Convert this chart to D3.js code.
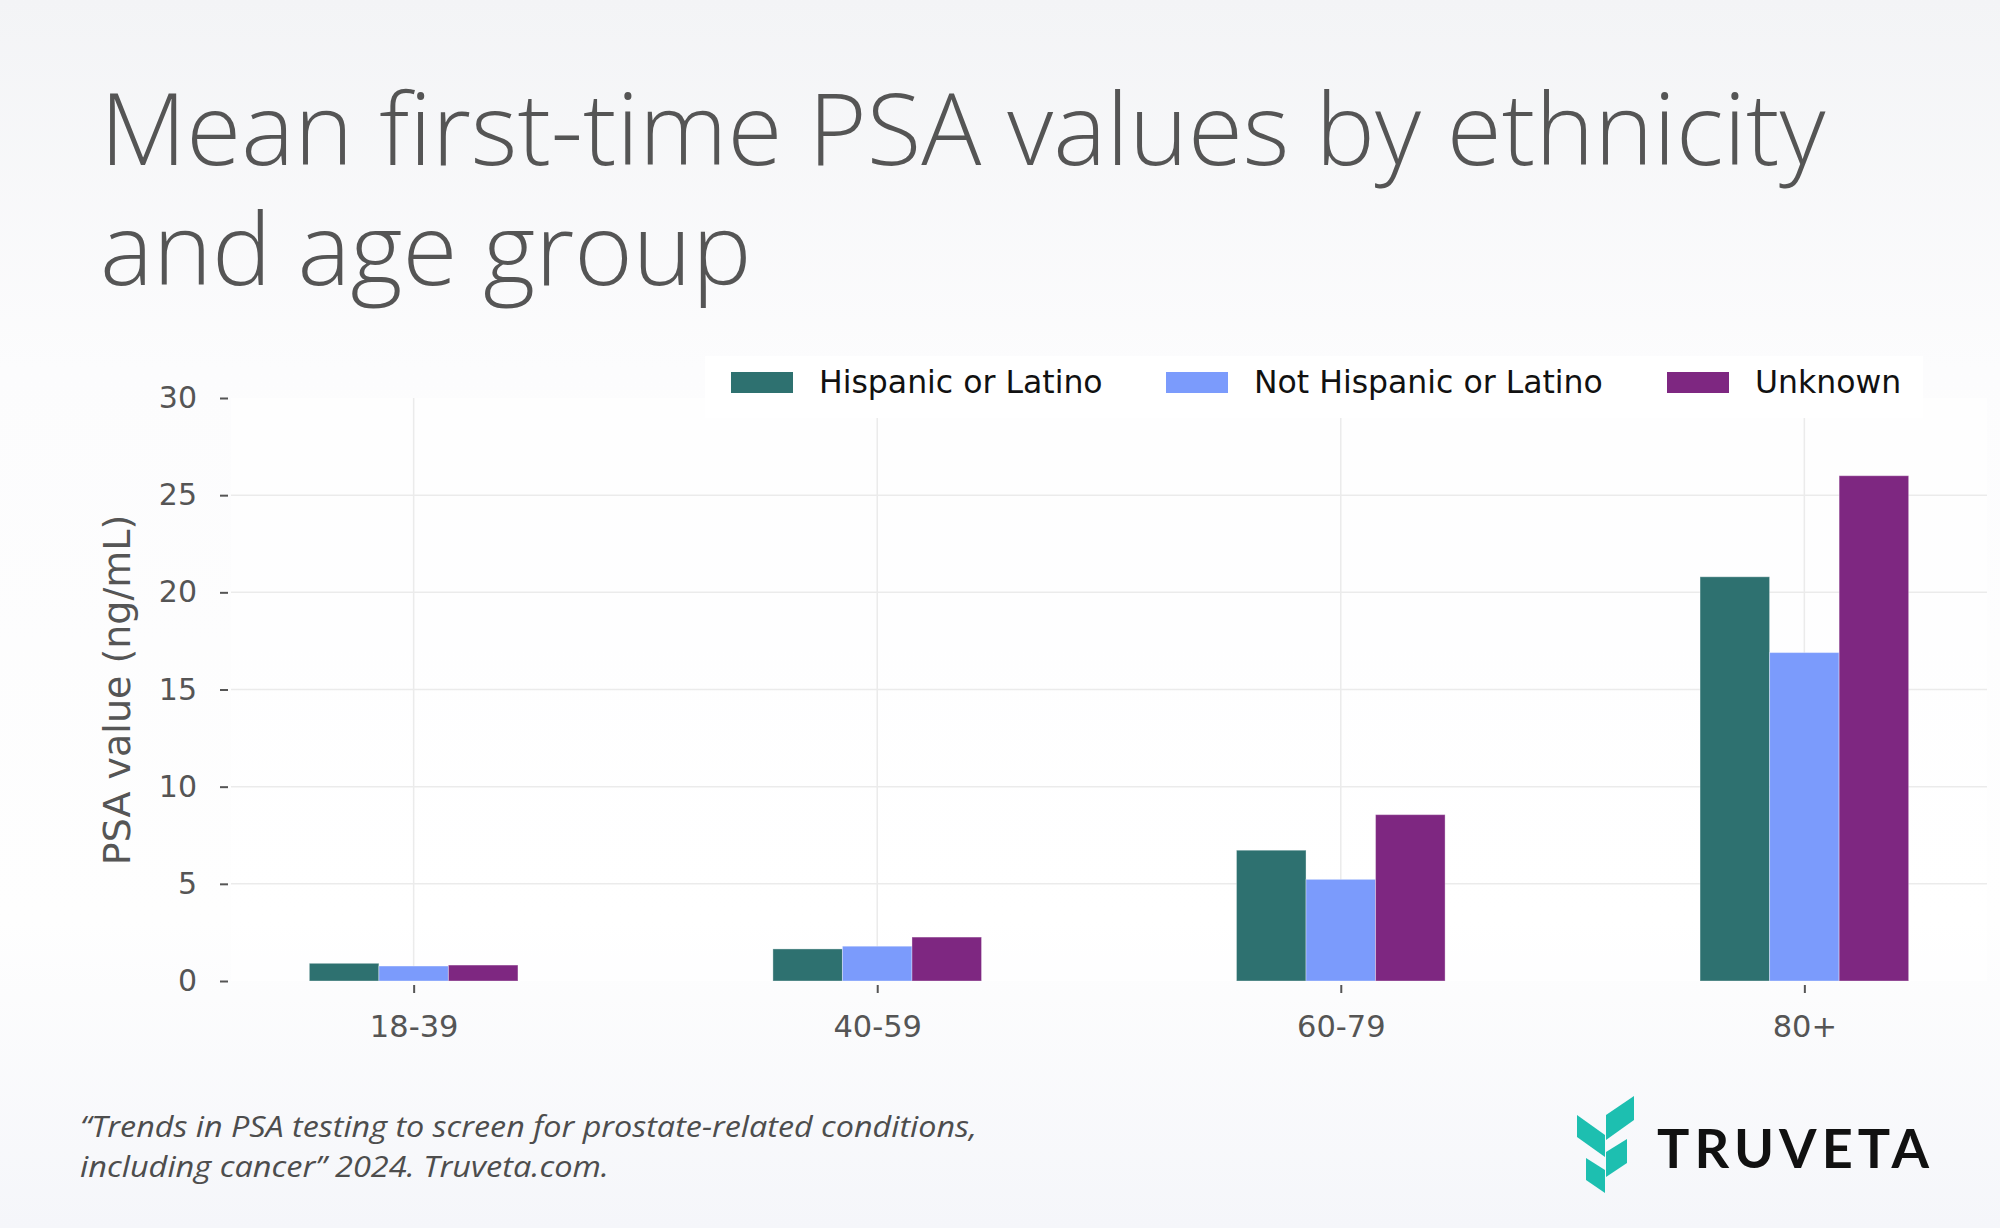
<!DOCTYPE html>
<html>
<head>
<meta charset="utf-8">
<script src="https://cdn.jsdelivr.net/npm/d3@7"></script>
<style>
  html, body { margin: 0; padding: 0; }
  body { width: 2000px; height: 1228px; overflow: hidden; }
  svg { display: block; }
</style>
</head>
<body>
<svg id="chart" width="2000" height="1228"></svg>
<script>
// ---- data ----
const categories = ["18-39", "40-59", "60-79", "80+"];
const seriesNames = ["Hispanic or Latino", "Not Hispanic or Latino", "Unknown"];
const hispanic = [0.91, 1.65, 6.73, 20.8];
const notHispanic = [0.77, 1.79, 5.23, 16.9];
const unknown = [0.82, 2.26, 8.56, 26.0];
const yTicks = [0, 5, 10, 15, 20, 25, 30];
const colors = ["#2e7170", "#7b9bfc", "#7e2781"];
const titleLines = ["Mean first-time PSA values by ethnicity", "and age group"];
const sourceLines = ["\u201CTrends in PSA testing to screen for prostate-related conditions,", "including cancer\u201D 2024. Truveta.com."];

const seriesValues = [hispanic, notHispanic, unknown];

const svg = d3.select("#chart");
const W = 2000, H = 1228;

// background gradient
const defs = svg.append("defs");
const grad = defs.append("linearGradient").attr("id", "bg").attr("x1", 0).attr("y1", 0).attr("x2", 0).attr("y2", 1);
grad.append("stop").attr("offset", "0%").attr("stop-color", "#f3f4f6");
grad.append("stop").attr("offset", "30%").attr("stop-color", "#fcfcfd");
grad.append("stop").attr("offset", "75%").attr("stop-color", "#fefefe");
grad.append("stop").attr("offset", "100%").attr("stop-color", "#f5f6fa");
svg.append("rect").attr("width", W).attr("height", H).attr("fill", "url(#bg)");

// plot area
const plot = { left: 231, right: 1987, top: 398, bottom: 981 };

svg.append("rect")
  .attr("x", plot.left).attr("y", plot.top)
  .attr("width", plot.right - plot.left).attr("height", plot.bottom - plot.top)
  .attr("fill", "#ffffff").attr("opacity", 0.6);

const x = d3.scalePoint().domain(categories).range([plot.left, plot.right]).padding(0.394);
const y = d3.scaleLinear().domain([0, 30]).range([plot.bottom, plot.top]);
const groupWidth = x.step() * 0.45;
const x1 = d3.scaleBand().domain(seriesNames).range([-groupWidth / 2, groupWidth / 2]).padding(0);

// gridlines
const grid = svg.append("g");
grid.selectAll("line.h").data(yTicks.filter(t => t > 0 && t < 30)).join("line")
  .attr("x1", plot.left).attr("x2", plot.right)
  .attr("y1", d => y(d)).attr("y2", d => y(d))
  .attr("stroke", "#ebebeb").attr("stroke-width", 1.5);
grid.selectAll("line.v").data(categories).join("line")
  .attr("x1", d => x(d)).attr("x2", d => x(d))
  .attr("y1", plot.top).attr("y2", plot.bottom)
  .attr("stroke", "#ebebeb").attr("stroke-width", 1.5);

// legend background
svg.append("rect").attr("x", 705).attr("y", 356).attr("width", 1218).attr("height", 62)
  .attr("fill", "#ffffff");

// bars
const barG = svg.append("g");
seriesNames.forEach((s, si) => {
  barG.append("g").selectAll("rect").data(categories).join("rect")
    .attr("x", c => x(c) + x1(s))
    .attr("y", (c, i) => y(seriesValues[si][i]))
    .attr("width", x1.bandwidth())
    .attr("height", (c, i) => y(0) - y(seriesValues[si][i]))
    .attr("fill", colors[si])
    .attr("stroke", "rgba(255,255,255,0.35)")
    .attr("stroke-width", 1);
});

// y axis
const yAxis = d3.axisLeft(y).tickValues(yTicks).tickSize(8).tickPadding(23).tickFormat(d3.format("d"));
const yg = svg.append("g").attr("transform", `translate(${plot.left - 3},0)`).call(yAxis);
yg.select(".domain").remove();
yg.selectAll(".tick line").attr("stroke", "#555").attr("stroke-width", 2);
yg.selectAll(".tick text").attr("fill", "#555").attr("font-family", "DejaVu Sans").attr("font-size", 30);

// x axis
const xAxis = d3.axisBottom(x).tickSize(8).tickPadding(22);
const xg = svg.append("g").attr("transform", `translate(0,${plot.bottom + 4})`).call(xAxis);
xg.select(".domain").remove();
xg.selectAll(".tick line").attr("stroke", "#555").attr("stroke-width", 2);
xg.selectAll(".tick text").attr("fill", "#555").attr("font-family", "DejaVu Sans").attr("font-size", 30.5);

// y title
svg.append("text")
  .attr("transform", `translate(130,690) rotate(-90)`)
  .attr("text-anchor", "middle")
  .attr("font-family", "DejaVu Sans").attr("font-size", 38).attr("fill", "#555")
  .text("PSA value (ng/mL)");

// legend
const legendX = [731, 1166, 1667];
const lg = svg.append("g");
seriesNames.forEach((s, i) => {
  lg.append("rect").attr("x", legendX[i]).attr("y", 372).attr("width", 62).attr("height", 21).attr("fill", colors[i]);
  lg.append("text").attr("x", legendX[i] + 88).attr("y", 393)
    .attr("font-family", "DejaVu Sans").attr("font-size", 31.5).attr("fill", "#111")
    .text(s);
});

// title
const tg = svg.append("text").attr("font-family", "Open Sans").attr("font-weight", 300)
  .attr("font-size", 100).attr("fill", "#555");
titleLines.forEach((t, i) => {
  tg.append("tspan").attr("x", 100).attr("y", 165 + i * 120).text(t);
});

// source
const sourceWidths = [897, 529];
sourceLines.forEach((t, i) => {
  svg.append("text").attr("font-family", "Open Sans").attr("font-style", "italic")
    .attr("font-weight", 400).attr("font-size", 30).attr("fill", "#4d4d4d")
    .attr("x", 80).attr("y", 1137 + i * 40)
    .attr("textLength", sourceWidths[i]).attr("lengthAdjust", "spacingAndGlyphs")
    .text(t);
});

// logo
const logo = svg.append("g").attr("fill", "#1dbfb0");
const pieces = [
  [[1577,1115],[1605,1135],[1605,1157],[1577,1137]],
  [[1606,1115],[1634,1096],[1634,1120],[1606,1140]],
  [[1606,1152],[1627,1139],[1627,1163],[1606,1177]],
  [[1586,1158],[1605,1170],[1605,1193],[1586,1180]]
];
pieces.forEach(p => logo.append("polygon").attr("points", p.map(q => q.join(",")).join(" ")));
svg.append("text").attr("x", 1657).attr("y", 1168)
  .attr("font-family", "Lato").attr("font-weight", 700).attr("font-size", 54).attr("fill", "#111")
  .attr("textLength", 272).attr("lengthAdjust", "spacing")
  .text("TRUVETA");
</script>
</body>
</html>
